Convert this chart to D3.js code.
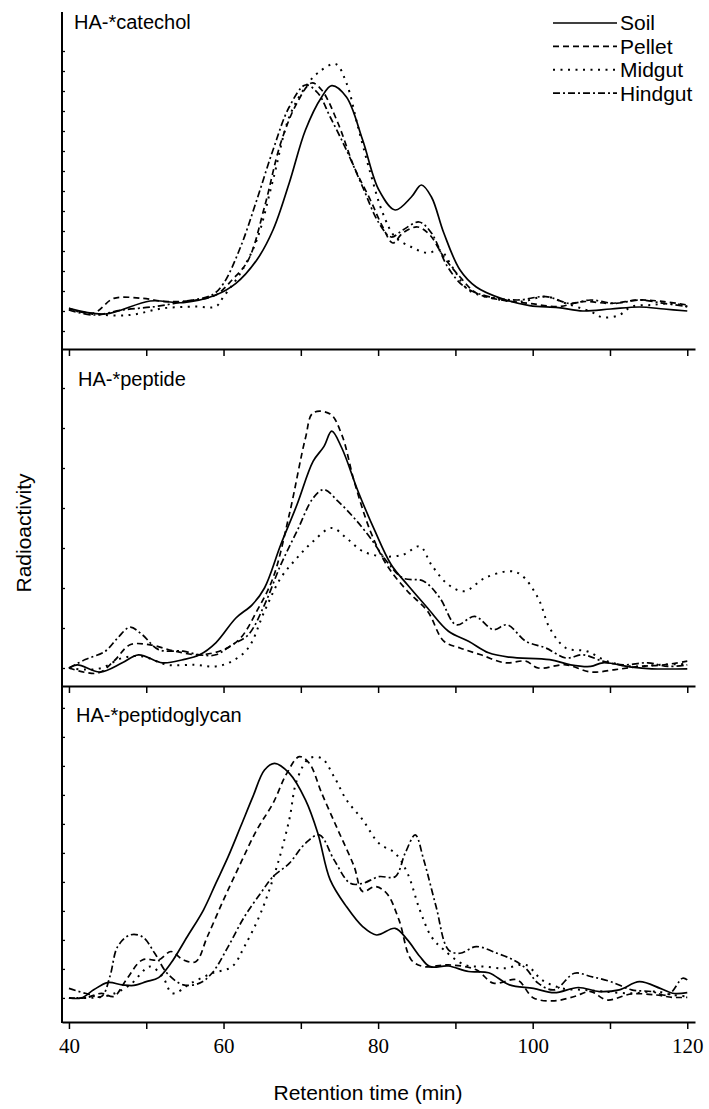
<!DOCTYPE html>
<html lang="en">
<head>
<meta charset="UTF-8">
<title>Radioactivity profiles</title>
<style>
  body { margin: 0; background: #fff; }
  svg text { font-family: "Liberation Sans", Arial, sans-serif; fill: #000; }
</style>
</head>
<body>
<svg id="chart" width="709" height="1109"></svg>
<script src="https://d3js.org/d3.v7.min.js"></script>
<script>
// series names and tick values
var seriesNames = ["Soil", "Pellet", "Midgut", "Hindgut"];
var xTicks = [40, 50, 60, 70, 80, 90, 100, 110, 120];
var xLabels = [40, 60, 80, 100, 120];

// HA-*catechol  [time (min), radioactivity]
var catecholSoil = [[40,0.13],[44.7,-0.15],[50.5,0.5],[54.8,0.42],[59,0.8],[61.6,1.38],[64.3,2.55],[66.4,4.05],[68.5,6.4],[70.6,9.05],[72.7,10.7],[74,11.27],[75.9,10.7],[78,8.55],[80.1,6.05],[82.2,5.05],[84.3,5.7],[85.6,6.3],[86.9,5.7],[88.5,3.9],[90.6,2.05],[92.7,1.2],[95.9,0.63],[99.6,0.27],[103.3,0.17],[106.5,0],[110.1,0.1],[113.8,0.2],[117,0.1],[120,0]];
var catecholPellet = [[40,0.13],[43.2,-0.1],[45.8,0.63],[49.5,0.63],[52.7,0.47],[56.4,0.55],[59,0.8],[61.1,1.55],[63.2,2.55],[65.3,5.2],[67.4,8.4],[69.5,10.4],[71.4,11.4],[72.7,11.05],[74.8,9.4],[76.9,7.2],[79,5.55],[80.6,4.2],[81.9,3.4],[83.2,3.9],[85.1,4.2],[86.7,3.8],[88.5,2.7],[90.6,1.7],[92.7,0.9],[95.9,0.55],[99.6,0.38],[103.3,0.22],[106.5,0.47],[110.1,0.38],[113.8,0.55],[117,0.47],[120,0.3]];
var catecholMidgut = [[40,0.08],[43.2,-0.15],[47.9,-0.2],[52.1,0.13],[56.4,0.22],[59,0.22],[60,0.72],[62.2,1.9],[64.3,3.55],[66.4,6.55],[68.5,9.7],[70.6,11.2],[72.2,11.9],[74.5,12.35],[75.9,11.4],[77.4,9.2],[79,6.9],[80.6,4.9],[82.2,3.7],[84.3,3.2],[86.4,2.9],[88,3.05],[89.6,2.2],[91.7,1.05],[94.9,0.63],[98.5,0.47],[101.7,0.72],[104.3,0.38],[107.5,-0.03],[109.1,-0.32],[111.2,-0.2],[112.8,0.22],[115.4,0.3],[118,0.38],[120,0.22]];
var catecholHindgut = [[40,0.05],[43.2,-0.2],[46.9,0.05],[51.1,0.22],[54.8,0.47],[58.5,0.8],[60,1.38],[62.2,3.2],[64.3,5.55],[66.4,8.05],[68.5,10.2],[70.6,11.3],[72.2,10.9],[73.8,9.7],[75.9,8.05],[78,6.2],[80.1,4.4],[81.7,3.7],[83.2,4.05],[85.3,4.45],[86.9,3.9],[89,2.2],[91.2,1.2],[94.3,0.72],[98,0.55],[101.7,0.72],[104.8,0.38],[107.5,0.55],[110.6,0.38],[113.8,0.55],[117,0.38],[120,0.22]];

// HA-*peptide
var peptideSoil = [[40,0],[41.1,0.08],[44,-0.1],[46.9,0.13],[49,0.33],[52.1,0.13],[54.8,0.21],[56.9,0.33],[59,0.63],[61.6,1.25],[63.7,1.58],[65.3,2],[67.4,3.08],[69.5,4.08],[71.6,5.17],[73,5.54],[74,5.92],[75.3,5.5],[77.4,4.42],[79.6,3.42],[81.7,2.58],[83.8,2.08],[86.4,1.5],[89.1,0.92],[91.7,0.67],[94.3,0.38],[97,0.27],[102.2,0.21],[104.9,0.08],[107.5,0.04],[109.1,0.13],[112.8,0.02],[115.4,-0.02],[120,-0.02]];
var peptidePellet = [[40,0],[43.7,-0.13],[45.8,0.17],[47.9,0.58],[50.5,0.58],[53.7,0.42],[56.9,0.33],[60,0.46],[62.2,0.75],[64.3,1.42],[66.4,2.25],[68.5,3.83],[70.6,5.75],[71.6,6.38],[73.8,6.35],[75.3,5.83],[76.9,4.67],[79,3.42],[81.1,2.58],[83.8,1.92],[86.4,1.42],[88.5,0.67],[90.6,0.5],[93.3,0.33],[96.4,0.13],[99.1,0.17],[100.7,0],[104.3,0.08],[107.5,-0.1],[110.7,-0.04],[113.8,0.04],[117,0.08],[120,0.17]];
var peptideMidgut = [[40,0],[42.1,-0.04],[44.2,0],[46.9,0.25],[49.5,0.29],[52.7,0.08],[56.3,0.08],[59,0.04],[61.1,0.17],[63.2,0.5],[65.3,1.42],[67.4,2.25],[69.5,2.75],[71.6,3.17],[74,3.5],[75.9,3.25],[78,2.92],[80.6,2.79],[83.2,2.83],[85.4,3.04],[86.9,2.58],[89.1,2.08],[91.2,1.92],[93.8,2.25],[97,2.42],[98.5,2.33],[100.7,1.75],[102.2,1],[104.3,0.5],[107,0.42],[109.6,0.17],[112.8,0.04],[116.5,0.08],[120,0.1]];
var peptideHindgut = [[40,0],[42.1,0.21],[44.7,0.42],[46.3,0.75],[47.9,1.02],[49.5,0.83],[51.6,0.46],[54.8,0.42],[56.9,0.33],[59,0.33],[61.1,0.58],[63.2,0.83],[65.3,1.58],[67.4,2.58],[69.5,3.42],[71.6,4.25],[73,4.46],[74.8,4.17],[76.9,3.75],[79,3.25],[81.1,2.67],[83.2,2.25],[85.9,2.17],[88,1.75],[90.1,1.08],[92.5,1.29],[94.9,0.96],[96.7,1.08],[99.1,0.67],[101.7,0.5],[104.3,0.25],[106.5,0.33],[109.1,0.17],[111.7,0.08],[114.9,0.13],[117.5,0.04],[120,0.08]];

// HA-*peptidoglycan
var glycanSoil = [[40,0],[41.6,0],[43.2,0.28],[45,0.53],[46.9,0.45],[48.4,0.43],[50,0.56],[51.6,0.7],[53.2,1.2],[55.3,2.11],[57.4,3.03],[59,3.95],[60.6,4.87],[62.2,5.9],[63.8,6.94],[65.3,7.86],[66.6,8.09],[68.5,7.75],[70.6,6.83],[72.2,5.68],[73.8,4.07],[75.9,3.15],[78,2.46],[79.8,2.17],[82.2,2.4],[83.8,2],[85.4,1.43],[86.7,1.08],[89.1,1.1],[91.7,0.91],[94.3,0.87],[97,0.45],[100.1,0.33],[102.8,0.18],[105.9,0.36],[108.6,0.22],[111.2,0.28],[113.8,0.56],[116.5,0.33],[118.1,0.16],[120,0.18]];
var glycanPellet = [[40,0],[42.1,0],[44.2,0.16],[45.8,0.05],[47.4,0.62],[49.5,1.31],[51.6,1.31],[53.2,1.6],[54.8,1.31],[56.4,1.25],[57.9,2.11],[60,3.38],[62.2,4.64],[64.3,5.79],[66.4,6.71],[68.2,7.75],[69.8,8.32],[71.1,8.09],[72.7,7.06],[74.8,5.79],[76.9,4.53],[78,3.67],[79.6,3.84],[81.1,3.61],[82.7,2.69],[84.3,1.31],[85.9,1.08],[89.1,1.14],[92.7,0.97],[94.9,0.51],[98,0.62],[100.1,0],[102.8,-0.1],[105.4,0.05],[107.5,0.22],[109.6,-0.07],[112.8,0.14],[116,0.1],[118.1,0.02],[120,0.02]];
var glycanMidgut = [[40,0],[42.6,0],[45.3,0.1],[47.9,0.45],[50.5,1.08],[52.1,0.74],[53.4,0.16],[55.8,0.51],[58.5,0.85],[61.1,1.08],[62.7,1.77],[64.8,2.92],[66.9,4.53],[68.5,6.14],[69.5,7.52],[71.1,8.26],[72.7,8.26],[74.3,7.63],[75.9,6.83],[78,6.14],[80.1,5.33],[82.2,4.99],[83.8,4.3],[85.4,3.03],[86.9,2.11],[88.5,1.66],[91.2,1.14],[93.8,1.08],[96.4,1.02],[99.1,1.14],[101.2,0.62],[103.8,0.33],[106.5,0.28],[109.1,0.22],[112.8,0.16],[116,0.22],[118.1,0.1],[120,0.05]];
var glycanHindgut = [[40,0.33],[42.1,0.16],[44.2,0.05],[45.3,0.74],[46.3,1.77],[47.9,2.17],[49.5,2.11],[51.1,1.54],[52.7,0.85],[54.8,0.45],[56.9,0.51],[58.5,0.85],[60.6,1.77],[62.7,2.8],[64.8,3.61],[66.4,4.18],[68.5,4.64],[70.6,5.33],[72.4,5.62],[74.3,4.76],[76.4,3.95],[78,3.95],[80.1,4.18],[82.2,4.18],[83.5,4.99],[84.8,5.62],[85.9,4.76],[87.5,3.15],[89.1,1.66],[90.6,1.54],[92.7,1.77],[95.4,1.54],[97.5,1.31],[99.1,1.02],[100.7,0.51],[102.8,0.28],[105.4,0.85],[107.5,0.74],[110.1,0.56],[112.8,0.28],[115.4,0.22],[117.5,0.1],[119.4,0.68],[120,0.62]];

var panels = [
  { label: "HA-*catechol", series: [catecholSoil, catecholPellet, catecholMidgut, catecholHindgut],
    top: 12, bottom: 349, domain: [-1.9, 14.95], ticks: d3.range(-1, 14), labelX: 74, labelY: 29 },
  { label: "HA-*peptide", series: [peptideSoil, peptidePellet, peptideMidgut, peptideHindgut],
    top: 350, bottom: 686, domain: [-0.45, 7.95], ticks: d3.range(0, 8), labelX: 78, labelY: 386 },
  { label: "HA-*peptidoglycan", series: [glycanSoil, glycanPellet, glycanMidgut, glycanHindgut],
    top: 687, bottom: 1022, domain: [-0.83, 10.72], ticks: d3.range(0, 11), labelX: 76, labelY: 722 }
];

// line styles for Soil, Pellet, Midgut, Hindgut
var dashes = [null, "6,4", "2,5.5", "7,3,2,3"];

var svg = d3.select("#chart");
var x = d3.scaleLinear().domain([39.1, 121]).range([62, 695]);

panels.forEach(function(p, i) {
  var y = d3.scaleLinear().domain(p.domain).range([p.bottom, p.top]);

  // small inward ticks on the left axis
  svg.append("g")
    .attr("transform", "translate(62,0)")
    .call(d3.axisRight(y).tickValues(p.ticks).tickSize(3).tickFormat(""))
    .call(function(g) { g.select(".domain").remove(); })
    .selectAll("line").attr("stroke-width", 1.3);

  var line = d3.line()
    .x(function(d) { return x(d[0]); })
    .y(function(d) { return y(d[1]); })
    .curve(d3.curveCatmullRom.alpha(0.5));

  svg.append("g").selectAll("path")
    .data(p.series)
    .enter()
    .append("path")
    .attr("d", line)
    .attr("fill", "none")
    .attr("stroke", "#000")
    .attr("stroke-width", function(d, j) { return j == 2 ? 2 : 1.7; })
    .attr("stroke-dasharray", function(d, j) { return dashes[j]; });

  // bottom axis of each panel, ticks point down
  var xa = svg.append("g")
    .attr("transform", "translate(0," + p.bottom + ")")
    .call(d3.axisBottom(x).tickValues(xTicks).tickSize(7).tickSizeOuter(0).tickPadding(9)
      .tickFormat(function(d) { return (i == 2 && xLabels.indexOf(d) >= 0) ? d : ""; }));
  xa.select(".domain").attr("stroke-width", 2);
  xa.selectAll("line").attr("stroke-width", 1.5);
  xa.selectAll("text")
    .style("font-family", "'Liberation Serif', 'Times New Roman', serif")
    .style("font-size", "21px");

  svg.append("text")
    .attr("x", p.labelX)
    .attr("y", p.labelY)
    .style("font-size", "20px")
    .text(p.label);
});

// left axis line
svg.append("line")
  .attr("x1", 62).attr("x2", 62)
  .attr("y1", 12).attr("y2", 1023)
  .attr("stroke", "#000")
  .attr("stroke-width", 2);

// legend
var legend = svg.append("g").selectAll("g")
  .data(seriesNames)
  .enter()
  .append("g")
  .attr("transform", function(d, i) { return "translate(0," + (23 + i * 23.4) + ")"; });

legend.append("line")
  .attr("x1", 553).attr("x2", 617)
  .attr("stroke", "#000")
  .attr("stroke-width", function(d, i) { return i == 2 ? 2 : 1.7; })
  .attr("stroke-dasharray", function(d, i) { return dashes[i]; });

legend.append("text")
  .attr("x", 620)
  .attr("dy", "0.35em")
  .style("font-size", "21px")
  .text(function(d) { return d; });

// axis titles
svg.append("text")
  .attr("transform", "translate(31,533) rotate(-90)")
  .attr("text-anchor", "middle")
  .style("font-size", "21px")
  .text("Radioactivity");

svg.append("text")
  .attr("x", 368)
  .attr("y", 1100)
  .attr("text-anchor", "middle")
  .style("font-size", "21px")
  .text("Retention time (min)");
</script>
</body>
</html>
